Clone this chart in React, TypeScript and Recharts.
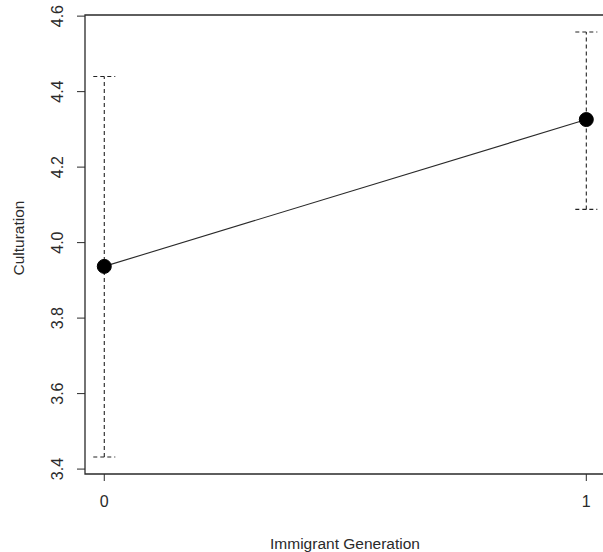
import React from 'react';
import { ComposedChart, Line, XAxis, YAxis, ErrorBar, ReferenceArea } from 'recharts';

const generations = [0, 1];
const means = [3.937, 4.326];
const lowerCI = [3.432, 4.088];
const upperCI = [4.44, 4.558];
const yTicks = [3.4, 3.6, 3.8, 4.0, 4.2, 4.4, 4.6];
const xTicks = [0, 1];

const data = generations.map((g, i) => ({
  gen: g,
  mean: means[i],
  err: [means[i] - lowerCI[i], upperCI[i] - means[i]],
}));

const FONT = 'Liberation Sans, Arial, Helvetica, sans-serif';
const INK = '#2a2a2a';

const YTick = (props: any) => {
  const { y, payload } = props;
  const x = 58;
  return (
    <text
      x={x}
      y={y}
      transform={`rotate(-90, ${x}, ${y})`}
      textAnchor="middle"
      dominantBaseline="central"
      fontFamily={FONT}
      fontSize={16}
      fill={INK}
    >
      {Number(payload.value).toFixed(1)}
    </text>
  );
};

const YLabel = () => (
  <text
    x={18}
    y={238}
    transform="rotate(-90, 18, 238)"
    textAnchor="middle"
    dominantBaseline="central"
    fontFamily={FONT}
    fontSize={15.5}
    fill={INK}
  >
    Culturation
  </text>
);

const XLabel = () => (
  <text
    x={345}
    y={543}
    textAnchor="middle"
    dominantBaseline="central"
    fontFamily={FONT}
    fontSize={15.5}
    fill={INK}
  >
    Immigrant Generation
  </text>
);

export default function App() {
  return (
    <div style={{ position: 'absolute', left: 0, top: 0, width: 603, height: 552, overflow: 'hidden', background: '#fff' }}>
      <ComposedChart width={620} height={552} data={data} margin={{ top: 15, right: 12, bottom: 0, left: 0 }}>
        <XAxis
          dataKey="gen"
          type="number"
          domain={[-0.04, 1.045]}
          ticks={xTicks}
          axisLine={false}
          tickLine={{ stroke: INK }}
          tickSize={7}
          tickMargin={15}
          height={78}
          tick={{ fontFamily: FONT, fontSize: 16, fill: INK }}
          label={<XLabel />}
        />
        <YAxis
          type="number"
          domain={[3.387, 4.603]}
          ticks={yTicks}
          axisLine={false}
          tickLine={{ stroke: INK }}
          tickSize={8}
          width={85}
          tick={<YTick />}
          label={<YLabel />}
          allowDataOverflow
        />
        <ReferenceArea
          x1={-0.04}
          x2={1.045}
          y1={3.387}
          y2={4.603}
          fill="none"
          fillOpacity={0}
          stroke={INK}
          strokeWidth={1.3}
          ifOverflow="visible"
        />
        <Line
          dataKey="mean"
          stroke={INK}
          strokeWidth={1.1}
          isAnimationActive={false}
          dot={{ r: 7, fill: '#000', stroke: '#000', strokeWidth: 1 }}
          activeDot={false}
        >
          <ErrorBar
            dataKey="err"
            direction="y"
            width={11}
            stroke="#222"
            strokeWidth={1.1}
            strokeDasharray="4 3"
            isAnimationActive={false}
          />
        </Line>
      </ComposedChart>
    </div>
  );
}
